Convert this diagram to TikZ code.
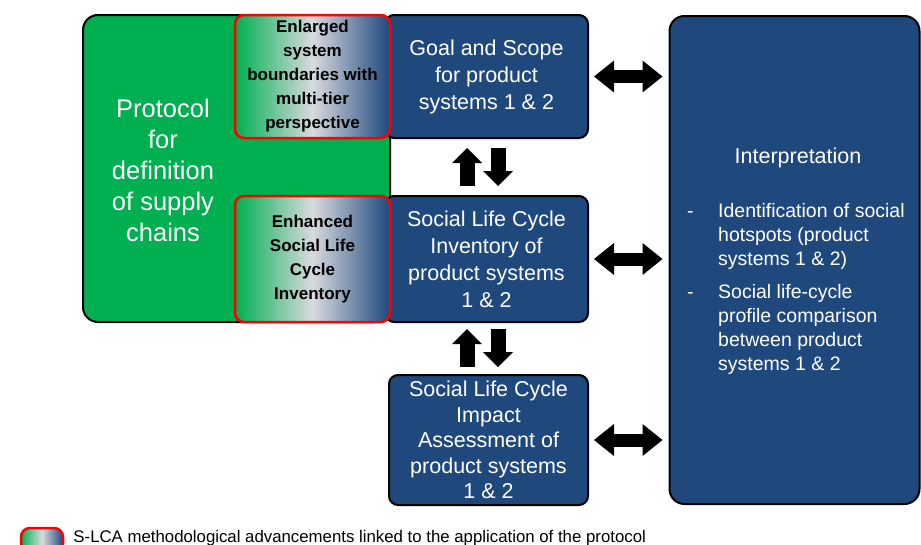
\documentclass[tikz,border=0pt]{standalone}
\usepackage{fontspec}
\setmainfont{Liberation Sans}
\usetikzlibrary{positioning,arrows.meta}
\definecolor{slcagreen}{RGB}{0,176,80}
\definecolor{slcablue}{RGB}{31,73,125}
\definecolor{slcagrey}{RGB}{216,218,222}

\tikzset{
  greenbox/.style={draw=black, line width=2pt, fill=slcagreen, rounded corners=15pt, inner sep=0pt},
  bluebox/.style={draw=black, line width=2pt, fill=slcablue, rounded corners=9pt,
    text=white, align=center, inner sep=0pt, font=\fontsize{21.5}{27}\selectfont},
  gradbox/.style={draw=red, line width=2.5pt, rounded corners=9pt,
    left color=slcagreen, right color=slcablue, middle color=slcagrey,
    align=center, inner sep=0pt, font=\bfseries\fontsize{17}{24}\selectfont},
  bigarrow/.style={line width=13pt,
    {Triangle[length=20pt,width=32pt,line width=0pt]}-{Triangle[length=20pt,width=32pt,line width=0pt]}},
  vertarrow/.style={line width=15pt, -{Triangle[length=15pt,width=30pt,line width=0pt]}},
}

\begin{document}
\begin{tikzpicture}[x=1pt,y=-1pt]
  \useasboundingbox (0,0) rectangle (921,544);

  % protocol block with the two enhanced steps
  \node[greenbox, minimum width=307pt, minimum height=307pt] (chain) at (236.5,168.5) {};
  \node[text=white, align=center, font=\fontsize{25.5}{31}\selectfont] (protocol) at (163,170)
    {Protocol\\for\\definition\\of supply\\chains};

  % S-LCA phases
  \node[bluebox, minimum width=203pt, minimum height=123pt] (goal) at (486.5,76.5)
    {Goal and Scope\\for product\\systems 1 \& 2};
  \node[bluebox, minimum width=203pt, minimum height=126pt] (slci) at (486.5,259)
    {Social Life Cycle\\Inventory of\\product systems\\1 \& 2};
  \node[bluebox, minimum width=199pt, minimum height=130pt, font=\fontsize{21.5}{25.5}\selectfont]
    (slcia) at (488.5,440)
    {Social Life Cycle\\Impact\\Assessment of\\product systems\\1 \& 2};
  \node[bluebox, minimum width=250pt, minimum height=488pt, rounded corners=15pt] (interp) at (794.5,260) {};

  % methodological advancements
  \node[gradbox, minimum width=155pt, minimum height=123pt] (boundaries) at (312.5,76.5)
    {Enlarged\\system\\boundaries with\\multi-tier\\perspective};
  \node[gradbox, minimum width=155pt, minimum height=126pt] (inventory) at (312.5,259)
    {Enhanced\\Social Life\\Cycle\\Inventory};

  % interpretation text
  \node[text=white, font=\fontsize{21.5}{26}\selectfont] (interptitle) at (798,158) {Interpretation};
  \node[text=white, anchor=north west, inner sep=0pt, font=\fontsize{19.5}{24}\selectfont] (findings) at (687,200)
    {\begin{tabular}{@{}p{31pt}@{}p{200pt}@{}}
      - & Identification of social\newline hotspots (product\newline systems 1 \& 2)\\[9pt]
      - & Social life-cycle\newline profile comparison\newline between product\newline systems 1 \& 2
    \end{tabular}};

  % links to interpretation
  \draw[bigarrow, shorten <=5pt, shorten >=6pt] (goal.east) -- (goal.east -| interp.west);
  \draw[bigarrow, shorten <=5pt, shorten >=6pt] (slci.east) -- (slci.east -| interp.west);
  \draw[bigarrow, shorten <=5pt, shorten >=6pt] (slcia.east) -- (slcia.east -| interp.west);

  % iterations between phases
  \draw[vertarrow, shorten <=9pt, shorten >=9pt] ([xshift=-19.5pt]slci.north) -- ([xshift=-19.5pt]goal.south);
  \draw[vertarrow, shorten <=9pt, shorten >=9pt] ([xshift=11.5pt]goal.south) -- ([xshift=11.5pt]slci.north);
  \coordinate (lowgap) at (slci.south |- slcia.north);
  \draw[vertarrow, shorten <=7pt, shorten >=6pt] ([xshift=-19.5pt]lowgap) -- ([xshift=-19.5pt]slci.south);
  \draw[vertarrow, shorten <=6pt, shorten >=7pt] ([xshift=11.5pt]slci.south) -- ([xshift=11.5pt]lowgap);

  % legend
  \node[gradbox, minimum width=42pt, minimum height=24pt] (key) at (42,540) {};
  \node[right=9pt of key, yshift=2pt, inner sep=0pt, font=\fontsize{16.8}{19}\selectfont] (keytext)
    {S-LCA methodological advancements linked to the application of the protocol};
\end{tikzpicture}
\end{document}
